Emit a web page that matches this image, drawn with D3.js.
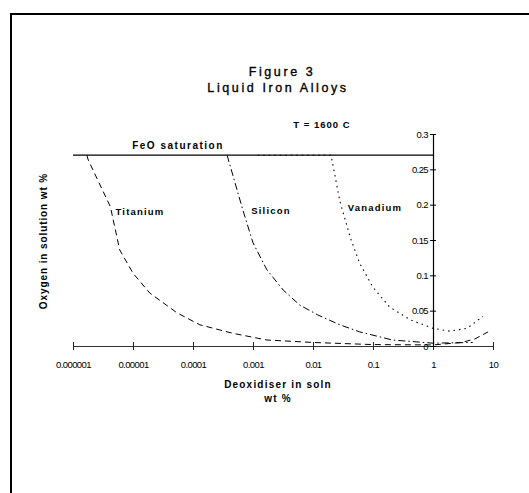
<!DOCTYPE html>
<html><head><meta charset="utf-8">
<script src="https://cdn.jsdelivr.net/npm/d3@7"></script>
<style>
body{margin:0;background:#fff;}
text{font-family:"Liberation Sans",Arial,sans-serif;fill:#000;}
</style></head>
<body><svg id="c" width="529" height="493"></svg>
<script>
const xTicks = [1e-6,1e-5,1e-4,1e-3,0.01,0.1,1,10];
const xTickLabels = ["0.000001","0.00001","0.0001","0.001","0.01","0.1","1","10"];
const yTicks = [0,0.05,0.1,0.15,0.2,0.25,0.3];
const yTickLabels = ["0","0.05","0.1","0.15","0.2","0.25","0.3"];

const titaniumX = [1.7e-6,1.8e-6,4.2e-6,6e-6,1e-5,1.9e-5,5.4e-5,1.3e-4,4.6e-4,1.7e-3,0.01,0.1,1,3,5,8.3];
const titaniumY = [0.27,0.263,0.197,0.136,0.103,0.075,0.047,0.030,0.018,0.0085,0.005,0.002,0.0015,0.005,0.01,0.02];
const siliconX = [3.7e-4,6.8e-4,1e-3,1.7e-3,3.2e-3,6e-3,0.012,0.028,0.06,0.21,1,4.6];
const siliconY = [0.27,0.192,0.146,0.108,0.079,0.058,0.044,0.030,0.020,0.0085,0.004,0.005];
const vanadiumX = [0.0012,0.002,0.005,0.01,0.02,0.028,0.042,0.06,0.1,0.19,0.42,1,1.9,3.7,6.8];
const vanadiumY = [0.27,0.27,0.27,0.27,0.27,0.205,0.153,0.117,0.083,0.055,0.037,0.025,0.021,0.025,0.042];
const feoX = [1e-6,1];
const feoY = [0.27,0.27];

const svg = d3.select("#c");
svg.append("rect").attr("x",11).attr("y",14).attr("width",560).attr("height",520)
  .attr("fill","none").attr("stroke","#000").attr("stroke-width",2);

const x = d3.scaleLog().domain([1e-6,10]).range([73,493]);
const y = d3.scaleLinear().domain([0,0.3]).range([346,134]);

const xa = svg.append("g").attr("transform","translate(0,346)")
  .call(d3.axisBottom(x).tickValues(xTicks).tickFormat((d,i)=>xTickLabels[i]).tickSizeInner(3).tickSizeOuter(0));
xa.select(".domain").attr("stroke","#333").attr("stroke-width",1.2);
xa.selectAll(".tick line").attr("y1",-4).attr("y2",4).attr("stroke","#222");
xa.selectAll(".tick text").attr("y",15).attr("font-size","9.5px").attr("letter-spacing","-0.6px")
  .attr("font-family","'Liberation Sans',Arial,sans-serif").attr("fill","#222");

const ya = svg.append("g").attr("transform","translate("+x(1)+",0)")
  .call(d3.axisLeft(y).tickValues(yTicks).tickFormat((d,i)=>yTickLabels[i]).tickSizeInner(3).tickSizeOuter(0));
ya.select(".domain").attr("stroke","#000").attr("stroke-width",1.2);
ya.selectAll(".tick line").attr("x1",-3).attr("x2",3).attr("stroke","#000");
ya.selectAll(".tick text").attr("x",-5).attr("font-size","9.5px").attr("letter-spacing","-0.6px")
  .attr("font-family","'Liberation Sans',Arial,sans-serif").attr("fill","#222");

const line = d3.line().x(d=>x(d[0])).y(d=>y(d[1]));
function series(xs,ys){return xs.map((v,i)=>[v,ys[i]]);}

svg.append("path").attr("d",line(series(feoX,feoY))).attr("fill","none").attr("stroke","#000").attr("stroke-width",1.2);
svg.append("path").attr("d",line(series(titaniumX,titaniumY))).attr("fill","none").attr("stroke","#000").attr("stroke-width",1).attr("stroke-dasharray","6,4");
svg.append("path").attr("d",line(series(siliconX,siliconY))).attr("fill","none").attr("stroke","#000").attr("stroke-width",1).attr("stroke-dasharray","7,3,1.5,3");
svg.append("path").attr("d",line(series(vanadiumX,vanadiumY))).attr("fill","none").attr("stroke","#000").attr("stroke-width",1.1).attr("stroke-dasharray","1.5,4");

function txt(s,px,py,size,ls,anchor,weight){
  return svg.append("text").attr("x",px).attr("y",py).attr("font-size",size+"px")
   .attr("letter-spacing",ls+"px").attr("text-anchor",anchor||"middle").attr("font-weight",weight||"normal").text(s);
}
txt("Figure 3",282,76,12.5,2.6,"middle","normal").attr("stroke","#000").attr("stroke-width",0.35);
txt("Liquid Iron Alloys",278,92,12.5,2.6,"middle","normal").attr("stroke","#000").attr("stroke-width",0.35);
txt("T = 1600 C",322,128,9.5,1,"middle","bold");
txt("FeO saturation",178,149,10,1.5,"middle","bold");
txt("Titanium",140,215,9.5,1.2,"middle","bold");
txt("Silicon",271,214,9.5,1.2,"middle","bold");
txt("Vanadium",375,211,9.5,1.2,"middle","bold");
txt("Deoxidiser in soln",278,388,10,1.2,"middle","bold");
txt("wt %",278,402,10,1.2,"middle","bold");
svg.append("text").attr("transform","translate(47,241) rotate(-90)").attr("text-anchor","middle")
  .attr("font-size","10px").attr("letter-spacing","0.9px").attr("font-weight","bold").text("Oxygen in solution wt %");
</script></body></html>
